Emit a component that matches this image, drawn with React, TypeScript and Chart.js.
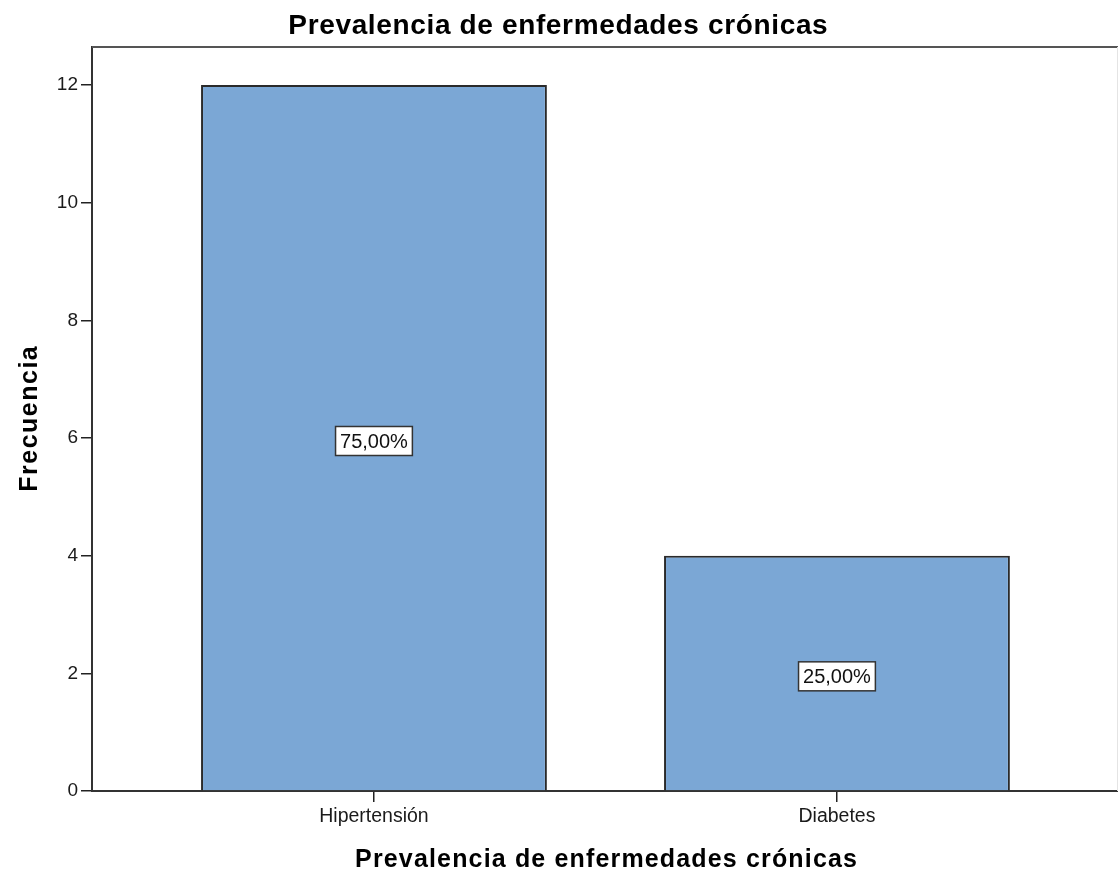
import React, { useEffect, useRef } from "react";
import { Chart, registerables } from "chart.js";

Chart.register(...registerables);

const categories = ["Hipertensión", "Diabetes"];
const frequencies = [12, 4];
const yTickValues = [0, 2, 4, 6, 8, 10, 12];
const chartTitle = "Prevalencia de enfermedades crónicas";
const xAxisTitle = "Prevalencia de enfermedades crónicas";
const yAxisTitle = "Frecuencia";

const total = frequencies.reduce((a, b) => a + b, 0);
const percentLabels = frequencies.map(
  (v) => ((v / total) * 100).toFixed(2).replace(".", ",") + "%"
);

const FONT = "'Liberation Sans', Arial, Helvetica, sans-serif";
const W = 1118;
const H = 873;

function drawSpaced(
  ctx: CanvasRenderingContext2D,
  text: string,
  x: number,
  y: number,
  font: string,
  target: number,
  rotate = 0
) {
  ctx.save();
  ctx.font = font;
  (ctx as any).letterSpacing = "0px";
  const w = ctx.measureText(text).width;
  const sp = Math.max(0, (target - w) / text.length);
  (ctx as any).letterSpacing = sp + "px";
  ctx.translate(x, y);
  ctx.rotate(rotate);
  ctx.textAlign = "center";
  ctx.textBaseline = "alphabetic";
  ctx.fillStyle = "#000";
  ctx.fillText(text, sp / 2, 0);
  ctx.restore();
}

const decorPlugin = {
  id: "decor",
  beforeDraw(chart: any) {
    const ctx = chart.ctx as CanvasRenderingContext2D;
    ctx.save();
    ctx.fillStyle = "#fff";
    ctx.fillRect(0, 0, chart.width, chart.height);
    ctx.restore();
  },
  afterDraw(chart: any) {
    const ctx = chart.ctx as CanvasRenderingContext2D;
    const ca = chart.chartArea;
    // top frame line
    ctx.save();
    ctx.strokeStyle = "#555";
    ctx.lineWidth = 2;
    ctx.beginPath();
    ctx.moveTo(ca.left, ca.top);
    ctx.lineTo(ca.right, ca.top);
    ctx.stroke();
    ctx.strokeStyle = "#e4e4e4";
    ctx.lineWidth = 1;
    ctx.beginPath();
    ctx.moveTo(ca.right - 0.5, ca.top);
    ctx.lineTo(ca.right - 0.5, ca.bottom);
    ctx.stroke();
    ctx.restore();

    // titles
    drawSpaced(ctx, chartTitle, 558, 34, `bold 28px ${FONT}`, 540);
    drawSpaced(ctx, xAxisTitle, 606, 867, `bold 25px ${FONT}`, 503);
    drawSpaced(ctx, yAxisTitle, 37, 419, `bold 25px ${FONT}`, 147, -Math.PI / 2);

    // value labels
    const meta = chart.getDatasetMeta(0);
    const yScale = chart.scales.y;
    ctx.save();
    ctx.font = `20px ${FONT}`;
    ctx.textAlign = "center";
    ctx.textBaseline = "middle";
    meta.data.forEach((bar: any, i: number) => {
      const cx = bar.x;
      const cy = yScale.getPixelForValue(frequencies[i] / 2) + 3;
      const tw = ctx.measureText(percentLabels[i]).width;
      const bw = tw + 9;
      const bh = 29;
      ctx.fillStyle = "#fff";
      ctx.fillRect(cx - bw / 2, cy - bh / 2, bw, bh);
      ctx.strokeStyle = "#333";
      ctx.lineWidth = 1.5;
      ctx.strokeRect(cx - bw / 2, cy - bh / 2, bw, bh);
      ctx.fillStyle = "#111";
      ctx.fillText(percentLabels[i], cx, cy + 1);
    });
    ctx.restore();
  },
};

export default function App() {
  const canvasRef = useRef<HTMLCanvasElement | null>(null);

  useEffect(() => {
    document.body.style.margin = "0";
    const canvas = canvasRef.current;
    if (!canvas) return;
    const chart = new Chart(canvas, {
      type: "bar",
      data: {
        datasets: [
          {
            data: frequencies.map((v, i) => ({ x: i, y: v })),
            backgroundColor: "#7ba7d5",
            borderColor: "#2a2a2a",
            borderWidth: 2,
            barPercentage: 0.747,
            categoryPercentage: 1,
          },
        ],
      },
      options: {
        responsive: false,
        animation: false,
        devicePixelRatio: 1,
        layout: { padding: { top: 47, right: 0, left: 0, bottom: 0 } },
        plugins: {
          legend: { display: false },
          tooltip: { enabled: false },
          title: { display: false },
        },
        scales: {
          x: {
            type: "linear",
            offset: false,
            min: -0.609,
            max: 1.607,
            afterFit: (s: any) => {
              s.height = 82;
            },
            afterBuildTicks: (s: any) => {
              s.ticks = categories.map((_, i) => ({ value: i }));
            },
            ticks: {
              callback: (v: any) => categories[v as number] ?? "",
              font: { family: FONT, size: 19.5 },
              color: "#1a1a1a",
              padding: 3,
              maxRotation: 0,
              autoSkip: false,
            },
            grid: {
              display: true,
              offset: false,
              drawOnChartArea: false,
              drawTicks: true,
              tickLength: 11,
              color: "#222",
              lineWidth: 1.5,
            },
            border: { display: true, color: "#333", width: 2 },
          },
          y: {
            type: "linear",
            min: 0,
            max: 12.646,
            afterFit: (s: any) => {
              s.width = 92;
            },
            afterBuildTicks: (s: any) => {
              s.ticks = yTickValues.map((v) => ({ value: v }));
            },
            ticks: {
              font: { family: FONT, size: 19 },
              color: "#1a1a1a",
              padding: 3,
            },
            grid: {
              display: true,
              drawOnChartArea: false,
              drawTicks: true,
              tickLength: 11,
              color: "#222",
              lineWidth: 1.5,
            },
            border: { display: true, color: "#333", width: 2 },
          },
        },
      },
      plugins: [decorPlugin],
    } as any);
    return () => chart.destroy();
  }, []);

  return (
    <div style={{ width: W, height: H, overflow: "hidden", background: "#fff" }}>
      <canvas ref={canvasRef} width={W} height={H} style={{ display: "block" }} />
    </div>
  );
}
